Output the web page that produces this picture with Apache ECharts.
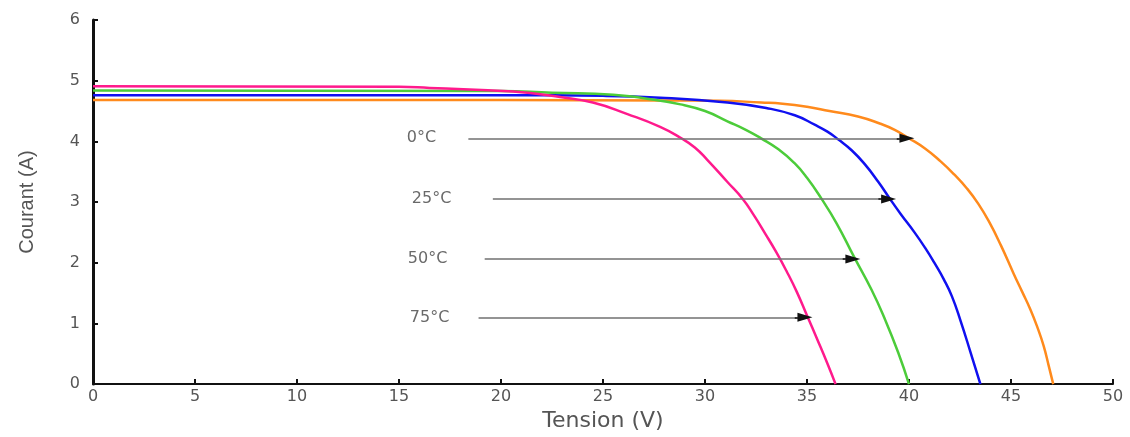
<!DOCTYPE html>
<html><head><meta charset="utf-8">
<script src="https://cdn.jsdelivr.net/npm/echarts@6/dist/echarts.min.js"></script>
<style>html,body{margin:0;padding:0;background:#fff}#c{width:1130px;height:437px}</style>
</head><body><div id="c"></div>
<script>
// Data
const xTicks = [0,5,10,15,20,25,30,35,40,45,50];
const yTicks = [0,1,2,3,4,5,6];

const v0 = [0,20,28,30.7,32.75,33.8,35.0,36.1,37.5,38.6,39.3,39.95,40.8,41.55,42.2,42.85,43.4,43.95,44.5,45.13,45.55,45.95,46.3,46.6,46.85,47.07];
const i0 = [4.68,4.68,4.675,4.67,4.64,4.62,4.57,4.50,4.41,4.29,4.19,4.06,3.88,3.67,3.46,3.22,2.97,2.66,2.29,1.82,1.52,1.23,0.93,0.63,0.3,0];

const v25 = [0,20,25,27.8,31.1,33.0,34.4,35.4,36.0,36.54,37.2,37.84,38.5,39.07,39.6,40.27,40.8,41.24,41.7,42.1,42.54,43.02,43.5];
const i25 = [4.76,4.76,4.75,4.72,4.64,4.55,4.43,4.27,4.16,4.03,3.85,3.62,3.33,3.05,2.80,2.50,2.24,2.00,1.73,1.45,1.03,0.52,0];

const v50 = [0,20,22.5,25.5,27.0,28.8,30.0,31.1,32.0,32.75,33.6,34.39,35.0,35.7,36.45,37.3,38.17,38.83,39.47,40.0];
const i50 = [4.84,4.83,4.80,4.77,4.71,4.61,4.50,4.33,4.19,4.05,3.87,3.64,3.40,3.06,2.65,2.10,1.55,1.06,0.52,0];

const v75 = [0,15,16.5,20.6,22.9,24.5,26.2,27.8,28.8,29.5,30.1,31.1,31.85,32.4,32.95,33.5,34.0,34.5,35.0,35.5,36.0,36.4];
const i75 = [4.91,4.90,4.88,4.82,4.73,4.64,4.45,4.24,4.06,3.90,3.70,3.33,3.05,2.78,2.48,2.17,1.86,1.52,1.13,0.74,0.34,0];

// Annotation arrows and labels
const annoNames = ['0°C','25°C','50°C','75°C'];
const arrowY = [4.05,3.05,2.06,1.10];
const arrowStart = [18.4,19.6,19.2,18.9];
const arrowEnd = [39.9,39.0,37.25,34.9];
const labelX = [16.1,16.6,16.4,16.5];

const pairs = (xs, ys) => xs.map((x, k) => [x, ys[k]]);

const curve = (name, xs, ys, color) => ({
  name, type: 'line', data: pairs(xs, ys), showSymbol: false, symbol: 'none',
  smooth: 0.5,
  lineStyle: {color, width: 2.5}, itemStyle: {color}, z: 3
});

const arrowLines = [];
annoNames.forEach((n, k) => {
  arrowLines.push([
    {coord: [arrowStart[k], arrowY[k]], symbol: 'none', lineStyle: {color: '#707070', width: 1.5, type: 'solid'}},
    {coord: [arrowEnd[k] - 0.4, arrowY[k]], symbol: 'none'}
  ]);
  arrowLines.push([
    {coord: [arrowEnd[k] - 0.5, arrowY[k]], symbol: 'none', lineStyle: {color: '#111', width: 1.5, type: 'solid'}},
    {coord: [arrowEnd[k], arrowY[k]], symbol: 'triangle', symbolSize: [9, 15], symbolRotate: -90}
  ]);
});

const chart = echarts.init(document.getElementById('c'), null, {renderer: 'canvas'});
chart.setOption({
  backgroundColor: '#ffffff',
  animation: false,
  grid: {left: 93, right: 17, top: 20, bottom: 45, containLabel: false},
  xAxis: {
    type: 'value', min: 0, max: 50, interval: 5,
    name: 'Tension (V)', nameLocation: 'middle', nameGap: 22,
    nameTextStyle: {fontSize: 22, color: '#555', fontFamily: 'DejaVu Sans'},
    axisLine: {show: true, lineStyle: {color: '#111', width: 2}},
    axisTick: {show: true, inside: true, length: 5, lineStyle: {color: '#111', width: 2}},
    axisLabel: {color: '#555', fontSize: 16, fontFamily: 'DejaVu Sans', margin: 5,
      formatter: v => xTicks.includes(v) ? String(v) : ''},
    splitLine: {show: false}
  },
  yAxis: {
    type: 'value', min: 0, max: 6, interval: 1,
    name: 'Courant (A)', nameLocation: 'middle', nameGap: 56, nameRotate: 90,
    nameTextStyle: {fontSize: 20, color: '#555', fontFamily: 'Liberation Sans Narrow, Liberation Sans'},
    axisLine: {show: true, onZero: false, lineStyle: {color: '#111', width: 3}},
    axisTick: {show: true, inside: true, length: 5, lineStyle: {color: '#111', width: 2}},
    axisLabel: {color: '#555', fontSize: 16, fontFamily: 'DejaVu Sans', margin: 13,
      formatter: v => yTicks.includes(v) ? String(v) : ''},
    splitLine: {show: false}
  },
  series: [
    curve('0°C', v0, i0, '#ff8a1c'),
    curve('25°C', v25, i25, '#1010f0'),
    curve('50°C', v50, i50, '#4ccc3a'),
    curve('75°C', v75, i75, '#ff1a8c'),
    {
      name: 'arrows', type: 'line', data: [], z: 4,
      markLine: {
        silent: true, animation: false,
        lineStyle: {type: 'solid'},
        label: {show: false},
        emphasis: {disabled: true},
        data: arrowLines
      }
    },
    {
      name: 'labels', type: 'scatter', symbolSize: 0, z: 5,
      data: annoNames.map((n, k) => ({value: [labelX[k], arrowY[k]], name: n})),
      label: {show: true, position: 'inside', formatter: p => p.name,
        color: '#444', fontSize: 16, fontFamily: 'DejaVu Sans'}
    }
  ]
});
</script></body></html>
